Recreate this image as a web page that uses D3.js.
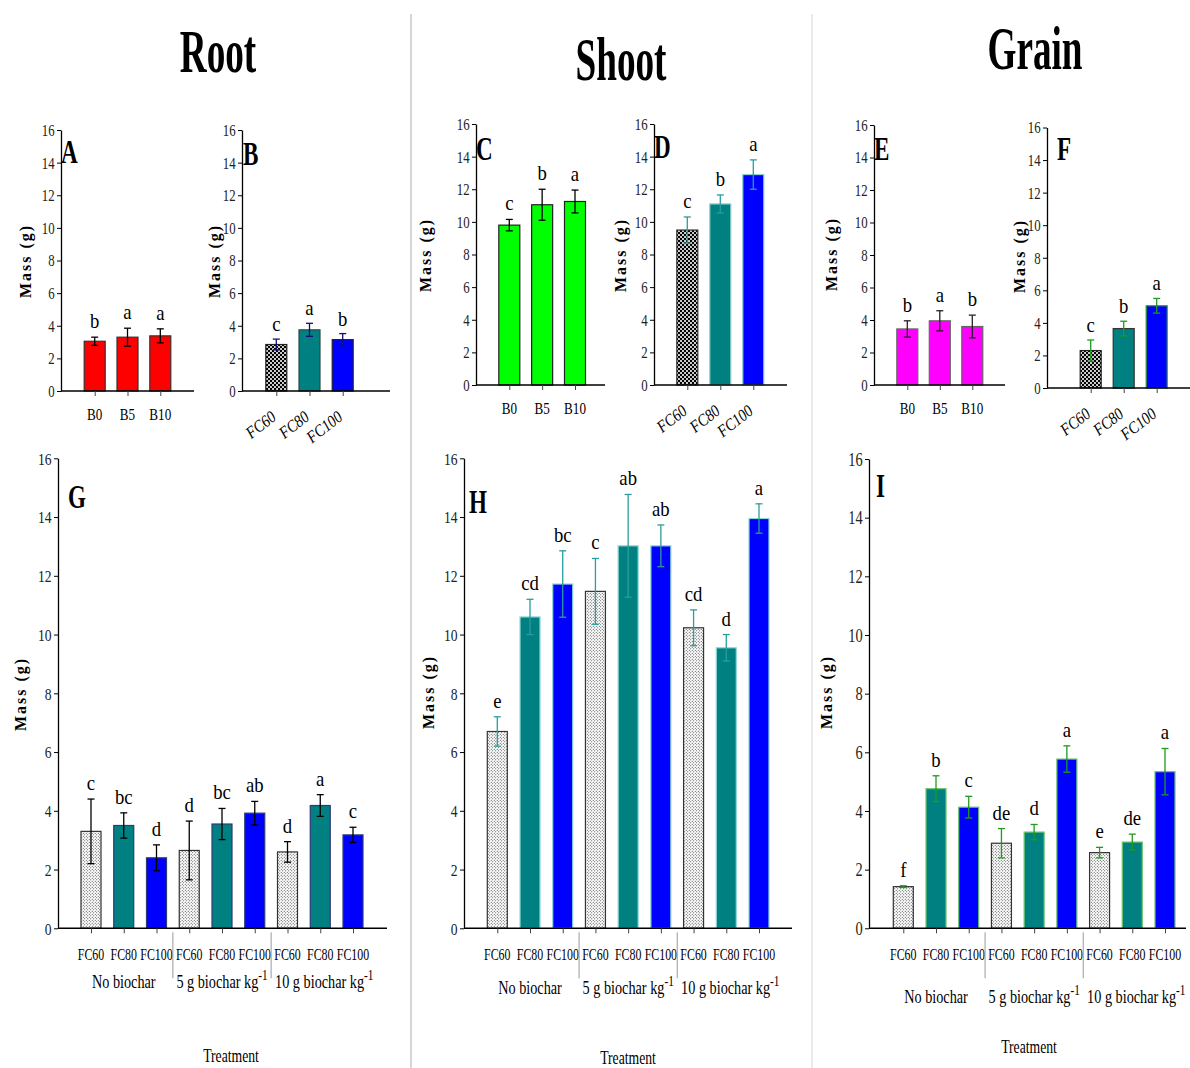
<!DOCTYPE html>
<html>
<head>
<meta charset="utf-8">
<script src="https://cdn.jsdelivr.net/npm/d3@7"></script>
<style>
  body { margin: 0; background: #fff; }
</style>
</head>
<body>
<div id="chart"></div>
<script>
const W = 1190
const H = 1068
const serif = "'Liberation Serif', 'Times New Roman', serif"

// ---- data ----
const biocharCats = ['B0', 'B5', 'B10']
const fcCats = ['FC60', 'FC80', 'FC100']
const groupNames = ['No biochar', '5 g biochar kg', '10 g biochar kg']
const treatCats = groupNames.flatMap(g => fcCats.map(f => g + '|' + f))

// Root
const rootBiochar = [3.05, 3.3, 3.38]
const rootBiocharErr = [0.25, 0.55, 0.43]
const rootBiocharLet = ['b', 'a', 'a']
const rootFc = [2.85, 3.75, 3.15]
const rootFcErr = [0.33, 0.4, 0.37]
const rootFcLet = ['c', 'a', 'b']
const rootTreat = [3.3, 3.5, 2.4, 2.65, 3.55, 3.92, 2.6, 4.18, 3.18]
const rootTreatErr = [1.1, 0.43, 0.44, 1.0, 0.53, 0.4, 0.35, 0.37, 0.26]
const rootTreatLet = ['c', 'bc', 'd', 'd', 'bc', 'ab', 'd', 'a', 'c']

// Shoot
const shootBiochar = [9.8, 11.05, 11.25]
const shootBiocharErr = [0.35, 0.95, 0.7]
const shootBiocharLet = ['c', 'b', 'a']
const shootFc = [9.5, 11.1, 12.9]
const shootFcErr = [0.8, 0.55, 0.9]
const shootFcLet = ['c', 'b', 'a']
const shootTreat = [6.7, 10.6, 11.72, 11.47, 13.02, 13.02, 10.23, 9.55, 13.95]
const shootTreatErr = [0.5, 0.6, 1.13, 1.12, 1.75, 0.71, 0.61, 0.45, 0.5]
const shootTreatLet = ['e', 'cd', 'bc', 'c', 'ab', 'ab', 'cd', 'd', 'a']

// Grain
const grainBiochar = [3.45, 3.95, 3.6]
const grainBiocharErr = [0.5, 0.62, 0.7]
const grainBiocharLet = ['b', 'a', 'b']
const grainFc = [2.3, 3.65, 5.05]
const grainFcErr = [0.65, 0.45, 0.45]
const grainFcLet = ['c', 'b', 'a']
const grainTreat = [1.42, 4.76, 4.13, 2.9, 3.28, 5.77, 2.58, 2.94, 5.34]
const grainTreatErr = [0.03, 0.44, 0.37, 0.5, 0.26, 0.45, 0.18, 0.27, 0.79]
const grainTreatLet = ['f', 'b', 'c', 'de', 'd', 'a', 'e', 'de', 'a']

const yTicks = [0, 2, 4, 6, 8, 10, 12, 14, 16]

const svg = d3
  .select('#chart')
  .append('svg')
  .attr('width', W)
  .attr('height', H)
  .style('font-family', serif)

// patterns for the FC60 bars
const defs = svg.append('defs')
const dense = defs.append('pattern').attr('id', 'dense')
  .attr('patternUnits', 'userSpaceOnUse').attr('width', 4).attr('height', 4)
dense.append('rect').attr('width', 4).attr('height', 4).attr('fill', '#000')
dense.append('ellipse').attr('cx', 1).attr('cy', 1).attr('rx', 1.1).attr('ry', 0.9).attr('fill', '#fff')
dense.append('ellipse').attr('cx', 3).attr('cy', 3).attr('rx', 1.1).attr('ry', 0.9).attr('fill', '#fff')

const light = defs.append('pattern').attr('id', 'light')
  .attr('patternUnits', 'userSpaceOnUse').attr('width', 3).attr('height', 3)
light.append('rect').attr('width', 3).attr('height', 3).attr('fill', '#fff')
light.append('circle').attr('cx', 0.75).attr('cy', 0.75).attr('r', 0.5).attr('fill', '#222')
light.append('circle').attr('cx', 2.25).attr('cy', 2.25).attr('r', 0.5).attr('fill', '#222')

// condensed serif text helper
function txt(sel, x, y, str, size, sx, opts = {}) {
  const t = sel.append('text')
    .attr('transform', `translate(${x},${y})` + (opts.rotate ? ` rotate(${opts.rotate})` : '') + ` scale(${sx},1)`)
    .attr('text-anchor', opts.anchor || 'middle')
    .attr('font-size', size)
    .attr('font-weight', opts.bold ? 'bold' : 'normal')
    .attr('font-style', opts.italic ? 'italic' : 'normal')
    .attr('fill', opts.fill || '#000')
    .text(str)
  return t
}

function drawPanel(p) {
  const g = svg.append('g')
  const y = d3.scaleLinear().domain([0, 16]).range([p.yB, p.yT])
  const x = d3.scalePoint().domain(p.cats).range([p.c0, p.c1])
  const bw = p.bw || 20
  const rows = p.cats.map((c, i) => ({ c, i, v: p.vals[i], e: p.errs[i], l: p.lets[i] }))

  // y axis
  const yAxis = d3.axisLeft(y).tickValues(yTicks).tickSize(4).tickSizeOuter(0).tickPadding(4)
  const ya = g.append('g')
    .attr('transform', `translate(${p.x0},0)`)
    .call(yAxis)
  ya.attr('font-size', null).attr('font-family', null)
  ya.select('.domain').attr('stroke', '#000').attr('stroke-width', 1.3)
  ya.selectAll('.tick line').attr('stroke', '#000')
  ya.selectAll('.tick text')
    .attr('font-family', serif)
    .attr('font-size', p.tickSize || 16)
    .attr('fill', '#222')
    .attr('dy', '0.34em')
    .attr('transform', 'scale(0.8,1)')

  // bars
  g.selectAll('.bar')
    .data(rows)
    .enter()
    .append('rect')
    .attr('x', d => x(d.c) - bw / 2)
    .attr('y', d => y(d.v))
    .attr('width', bw)
    .attr('height', d => y(0) - y(d.v))
    .attr('fill', d => p.fills[d.i % 3])
    .attr('stroke', d => p.strokes[d.i % 3])
    .attr('stroke-width', 1.2)

  // x baseline + ticks
  g.append('line')
    .attr('x1', p.x0).attr('x2', p.x1)
    .attr('y1', y(0)).attr('y2', y(0))
    .attr('stroke', '#000').attr('stroke-width', 1.5)
  const xa = g.append('g')
    .attr('transform', `translate(0,${y(0)})`)
    .call(d3.axisBottom(x).tickSize(5).tickFormat(''))
  xa.select('.domain').remove()
  xa.selectAll('.tick line').attr('stroke', '#444')

  // error bars
  const eg = g.selectAll('.err').data(rows).enter().append('g')
    .attr('stroke', p.errColor).attr('stroke-width', 1.3)
  eg.append('line')
    .attr('x1', d => x(d.c)).attr('x2', d => x(d.c))
    .attr('y1', d => y(d.v - d.e)).attr('y2', d => y(d.v + d.e))
  eg.append('line')
    .attr('x1', d => x(d.c) - 3.5).attr('x2', d => x(d.c) + 3.5)
    .attr('y1', d => y(d.v + d.e)).attr('y2', d => y(d.v + d.e))
  eg.append('line')
    .attr('x1', d => x(d.c) - 3.5).attr('x2', d => x(d.c) + 3.5)
    .attr('y1', d => y(d.v - d.e)).attr('y2', d => y(d.v - d.e))

  // significance letters
  rows.forEach(d => {
    txt(g, x(d.c), y(d.v + d.e) - p.gap, d.l, 22, 0.85)
  })

  // category labels
  if (p.kind === 'biochar') {
    p.cats.forEach(c => txt(g, x(c), y(0) + 29, c, 16, 0.82))
  } else if (p.kind === 'fc') {
    p.cats.forEach(c => txt(g, x(c) + 1, y(0) + 28, c, 17, 0.85, { anchor: 'end', rotate: -38, italic: true }))
  } else {
    p.cats.forEach(c => txt(g, x(c), y(0) + 32, c.split('|')[1], 17, 0.7))
    // group separators
    ;[3, 6].forEach(k => {
      const sx = (x(p.cats[k - 1]) + x(p.cats[k])) / 2
      g.append('line')
        .attr('x1', sx).attr('x2', sx)
        .attr('y1', y(0) + 4).attr('y2', y(0) + 50)
        .attr('stroke', '#999').attr('stroke-width', 1)
    })
    groupNames.forEach((name, k) => {
      const cx = x(p.cats[k * 3 + 1]) + (k === 2 ? 4 : 0)
      const t = txt(g, cx, p.groupY, '', 19, 0.75)
      t.append('tspan').text(name)
      if (k > 0) {
        t.append('tspan').attr('dy', -8).attr('font-size', 15).text('-1')
      }
    })
    txt(g, p.treatX, p.treatY, 'Treatment', 19, 0.72)
  }

  // y axis title
  g.append('text')
    .attr('transform', `translate(${p.labX},${p.labY}) rotate(-90)`)
    .attr('text-anchor', 'middle')
    .attr('dy', '0.35em')
    .attr('font-size', 16)
    .attr('font-weight', 'bold')
    .attr('letter-spacing', 2)
    .text('Mass (g)')

  // panel letter
  txt(g, p.tagX, p.tagY, p.tag, 34, 0.68, { anchor: 'start', bold: true })
}

const teal = '#008080'
const blue = '#0000ff'

const panels = [
  { tag: 'A', kind: 'biochar', cats: biocharCats, vals: rootBiochar, errs: rootBiocharErr, lets: rootBiocharLet,
    x0: 61, x1: 194, c0: 94.7, c1: 160.3, yT: 130, yB: 391, bw: 21,
    fills: ['#ff0000', '#ff0000', '#ff0000'], strokes: ['#333', '#333', '#333'], errColor: '#000', gap: 9,
    labX: 25, labY: 261, tagX: 61, tagY: 163 },
  { tag: 'B', kind: 'fc', cats: fcCats, vals: rootFc, errs: rootFcErr, lets: rootFcLet,
    x0: 242, x1: 390, c0: 276.3, c1: 342.7, yT: 130, yB: 391, bw: 21,
    fills: ['url(#dense)', teal, blue], strokes: ['#222', '#2a4a4a', '#223'], errColor: '#101070', gap: 8,
    labX: 214, labY: 261, tagX: 243, tagY: 165 },
  { tag: 'C', kind: 'biochar', cats: biocharCats, vals: shootBiochar, errs: shootBiocharErr, lets: shootBiocharLet,
    x0: 476, x1: 605, c0: 509.3, c1: 575, yT: 124, yB: 385, bw: 21,
    fills: ['#00ff00', '#00ff00', '#00ff00'], strokes: ['#222', '#222', '#222'], errColor: '#000', gap: 9,
    labX: 425, labY: 255, tagX: 476, tagY: 160 },
  { tag: 'D', kind: 'fc', cats: fcCats, vals: shootFc, errs: shootFcErr, lets: shootFcLet,
    x0: 654, x1: 787, c0: 687.3, c1: 753.3, yT: 124, yB: 385, bw: 21,
    fills: ['url(#dense)', teal, blue], strokes: ['#333', '#8fd0d0', '#8fd0d0'], errColor: '#2a9d9d', gap: 9,
    labX: 620, labY: 255, tagX: 654, tagY: 158 },
  { tag: 'E', kind: 'biochar', cats: biocharCats, vals: grainBiochar, errs: grainBiocharErr, lets: grainBiocharLet,
    x0: 874, x1: 1005, c0: 907.3, c1: 972.3, yT: 125, yB: 385, bw: 21,
    fills: ['#ff00ff', '#ff00ff', '#ff00ff'], strokes: ['#666', '#666', '#666'], errColor: '#222', gap: 9,
    labX: 831, labY: 254, tagX: 874, tagY: 160 },
  { tag: 'F', kind: 'fc', cats: fcCats, vals: grainFc, errs: grainFcErr, lets: grainFcLet,
    x0: 1047, x1: 1190, c0: 1090.7, c1: 1156.7, yT: 127.5, yB: 388, bw: 21,
    fills: ['url(#dense)', teal, blue], strokes: ['#222', '#333', '#2a9a2a'], errColor: '#1f9a1f', gap: 8,
    labX: 1019, labY: 256, tagX: 1057, tagY: 160 },
  { tag: 'G', kind: 'treat', cats: treatCats, vals: rootTreat, errs: rootTreatErr, lets: rootTreatLet,
    x0: 58, x1: 387, c0: 91, c1: 353, yT: 458.3, yB: 928.3, bw: 20, tickSize: 17,
    fills: ['url(#light)', teal, blue], strokes: ['#333', '#2c3a7a', '#2c3a7a'], errColor: '#000', gap: 9,
    labX: 20, labY: 694, groupY: 988, treatX: 231, treatY: 1062, tagX: 68, tagY: 508 },
  { tag: 'H', kind: 'treat', cats: treatCats, vals: shootTreat, errs: shootTreatErr, lets: shootTreatLet,
    x0: 464, x1: 792, c0: 497.3, c1: 759, yT: 458.3, yB: 928.3, bw: 20, tickSize: 17,
    fills: ['url(#light)', teal, blue], strokes: ['#333', '#8fd8d8', '#8fd8d8'], errColor: '#2a9d9d', gap: 9,
    labX: 428, labY: 692, groupY: 994, treatX: 628, treatY: 1064, tagX: 469, tagY: 513 },
  { tag: 'I', kind: 'treat', cats: treatCats, vals: grainTreat, errs: grainTreatErr, lets: grainTreatLet,
    x0: 869, x1: 1186, c0: 903.3, c1: 1165, yT: 459, yB: 928.3, bw: 20, tickSize: 18,
    fills: ['url(#light)', teal, blue], strokes: ['#333', '#6cc46c', '#6cc46c'], errColor: '#1f9a1f', gap: 9,
    labX: 826, labY: 692, groupY: 1003, treatX: 1029, treatY: 1053, tagX: 876, tagY: 497 }
]

panels.forEach(drawPanel)

// column titles
txt(svg, 218, 72, 'Root', 62, 0.6, { bold: true })
txt(svg, 621, 80, 'Shoot', 62, 0.6, { bold: true })
txt(svg, 1035, 69, 'Grain', 62, 0.6, { bold: true })

// column dividers
svg.append('line')
  .attr('x1', 411).attr('x2', 411).attr('y1', 14).attr('y2', H)
  .attr('stroke', '#bbb').attr('stroke-width', 1.2)
svg.append('line')
  .attr('x1', 812).attr('x2', 812).attr('y1', 14).attr('y2', H)
  .attr('stroke', '#ddd').attr('stroke-width', 1.2)
</script>
</body>
</html>
